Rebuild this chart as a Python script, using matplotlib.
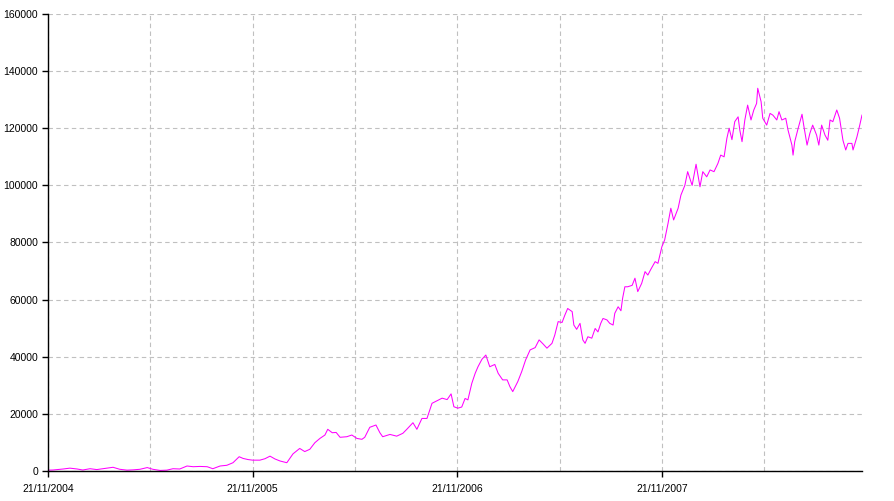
import datetime as dt
import numpy as np
import matplotlib
matplotlib.use("Agg")
import matplotlib.pyplot as plt

start = dt.date(2004, 11, 21)

# days after 21/11/2004
days = [0, 9, 27, 39, 52, 62, 75, 87, 105, 116, 128, 141, 152, 164, 177, 187, 200, 212,
        223, 235, 248, 259, 271, 284, 294, 307, 319, 330, 341, 348, 357, 365, 378, 387,
        396, 405, 414, 426, 437, 449, 458, 467, 476, 485, 494, 499, 507, 514, 521, 533,
        542, 551, 560, 565, 574, 585, 592, 597, 610, 622, 633, 640, 651, 658, 667, 676,
        685, 694, 703, 712, 719, 724, 731, 738, 744, 749, 756, 762, 767, 774, 781, 788,
        797, 803, 811, 819, 824, 829, 838, 845, 852, 860, 869, 876, 883, 890, 899, 904,
        910, 917, 922, 927, 935, 938, 943, 949, 954, 958, 963, 970, 976, 981, 986, 990,
        997, 1002, 1008, 1011, 1017, 1022, 1025, 1029, 1034, 1042, 1047, 1052, 1059, 1065,
        1070, 1075, 1083, 1088, 1095, 1100, 1106, 1111, 1116, 1124, 1129, 1136, 1141, 1149,
        1156, 1163, 1168, 1175, 1181, 1188, 1195, 1200, 1206, 1211, 1215, 1220, 1225, 1231,
        1234, 1238, 1243, 1248, 1254, 1259, 1264, 1266, 1272, 1275, 1282, 1288, 1293, 1300,
        1304, 1309, 1316, 1320, 1327, 1329, 1332, 1338, 1345, 1348, 1354, 1359, 1364, 1371,
        1375, 1380, 1386, 1391, 1395, 1400, 1407, 1412, 1418, 1423, 1427, 1434, 1436, 1443,
        1448, 1452]
values_k = [0.3, 0.35, 0.7, 1.0, 0.7, 0.35, 0.8, 0.5, 1.0, 1.3, 0.6, 0.3, 0.4, 0.6, 1.2, 0.6,
            0.2, 0.3, 0.8, 0.7, 1.75, 1.5, 1.6, 1.5, 0.8, 1.75, 2.0, 2.9, 5.0, 4.4, 4.0, 3.8,
            3.8, 4.3, 5.2, 4.2, 3.5, 2.9, 6.0, 7.9, 6.8, 7.6, 9.9, 11.4, 12.6, 14.6, 13.4, 13.5,
            11.8, 12.0, 12.6, 11.4, 11.1, 11.8, 15.3, 16.1, 13.4, 12.0, 12.8, 12.2, 13.2, 14.6,
            16.9, 14.6, 18.4, 18.4, 23.7, 24.6, 25.5, 25.0, 27.0, 22.5, 22.0, 22.4, 25.4, 24.9,
            30.7, 34.2, 36.5, 39.1, 40.6, 36.5, 37.3, 34.2, 31.9, 31.9, 29.5, 27.8, 31.3, 34.8,
            38.9, 42.4, 43.2, 45.9, 44.5, 43.0, 44.7, 47.6, 52.3, 52.0, 54.6, 56.9, 55.8, 51.1,
            49.6, 51.7, 45.9, 44.7, 47.0, 46.5, 49.9, 48.7, 51.7, 53.4, 52.9, 51.7, 51.1, 55.2,
            57.5, 56.1, 60.5, 64.5, 64.5, 65.0, 67.5, 62.8, 65.7, 69.8, 68.6, 70.5, 73.3, 72.7,
            78.5, 80.9, 86.7, 92.0, 87.9, 92.0, 96.6, 100.0, 104.8, 100.0, 107.4, 99.5, 104.8,
            103.0, 105.4, 104.8, 107.7, 110.6, 110.0, 116.5, 120.0, 116.0, 122.3, 124.0, 119.4,
            115.3, 122.9, 128.1, 122.9, 126.4, 128.7, 134.0, 129.3, 123.5, 121.1, 125.2, 124.6,
            122.9, 125.8, 122.9, 123.5, 119.4, 114.1, 110.6, 115.3, 119.9, 124.9, 121.1, 114.1,
            118.2, 121.1, 117.6, 114.1, 121.1, 117.6, 115.8, 122.9, 122.3, 126.4, 123.5, 115.8,
            112.4, 114.7, 114.7, 112.4, 117.0, 121.1, 124.6]
values = np.array(values_k) * 1000

label_years = [2004, 2005, 2006, 2007]
y_ticks = list(range(0, 160001, 20000))

plt.rcParams['font.family'] = ['Liberation Sans', 'DejaVu Sans']

fig = plt.figure(figsize=(8.95, 5.01), dpi=100)
ax = fig.add_axes([48 / 895, 30 / 501, (862 - 48) / 895, (471 - 14) / 501])

ax.plot(days, values, color='#ff00ff', linewidth=0.75)

major = [(dt.date(y, 11, 21) - start).days for y in label_years]
ax.set_xticks(major)
ax.set_xticklabels([dt.date(y, 11, 21).strftime('%d/%m/%Y') for y in label_years])
ax.set_xticks(np.arange(182.5, 1452, 365), minor=True)
ax.set_yticks(y_ticks)
ax.set_yticklabels([str(v) for v in y_ticks])

ax.set_xlim(0, 1452)
ax.set_ylim(0, 160000)

ax.grid(True, which='both', color='#c0c0c0', linestyle=(0, (4, 3)), linewidth=0.8)
ax.set_axisbelow(True)
ax.tick_params(axis='both', which='major', direction='out', length=4, width=1,
               labelsize=7.5, colors='black', pad=3)
ax.tick_params(axis='x', which='major', pad=5)
ax.tick_params(axis='x', which='minor', length=0)

for side in ['top', 'right']:
    ax.spines[side].set_visible(False)
for side in ['left', 'bottom']:
    ax.spines[side].set_color('black')
    ax.spines[side].set_linewidth(1)

fig.savefig('out.png', dpi=100)
